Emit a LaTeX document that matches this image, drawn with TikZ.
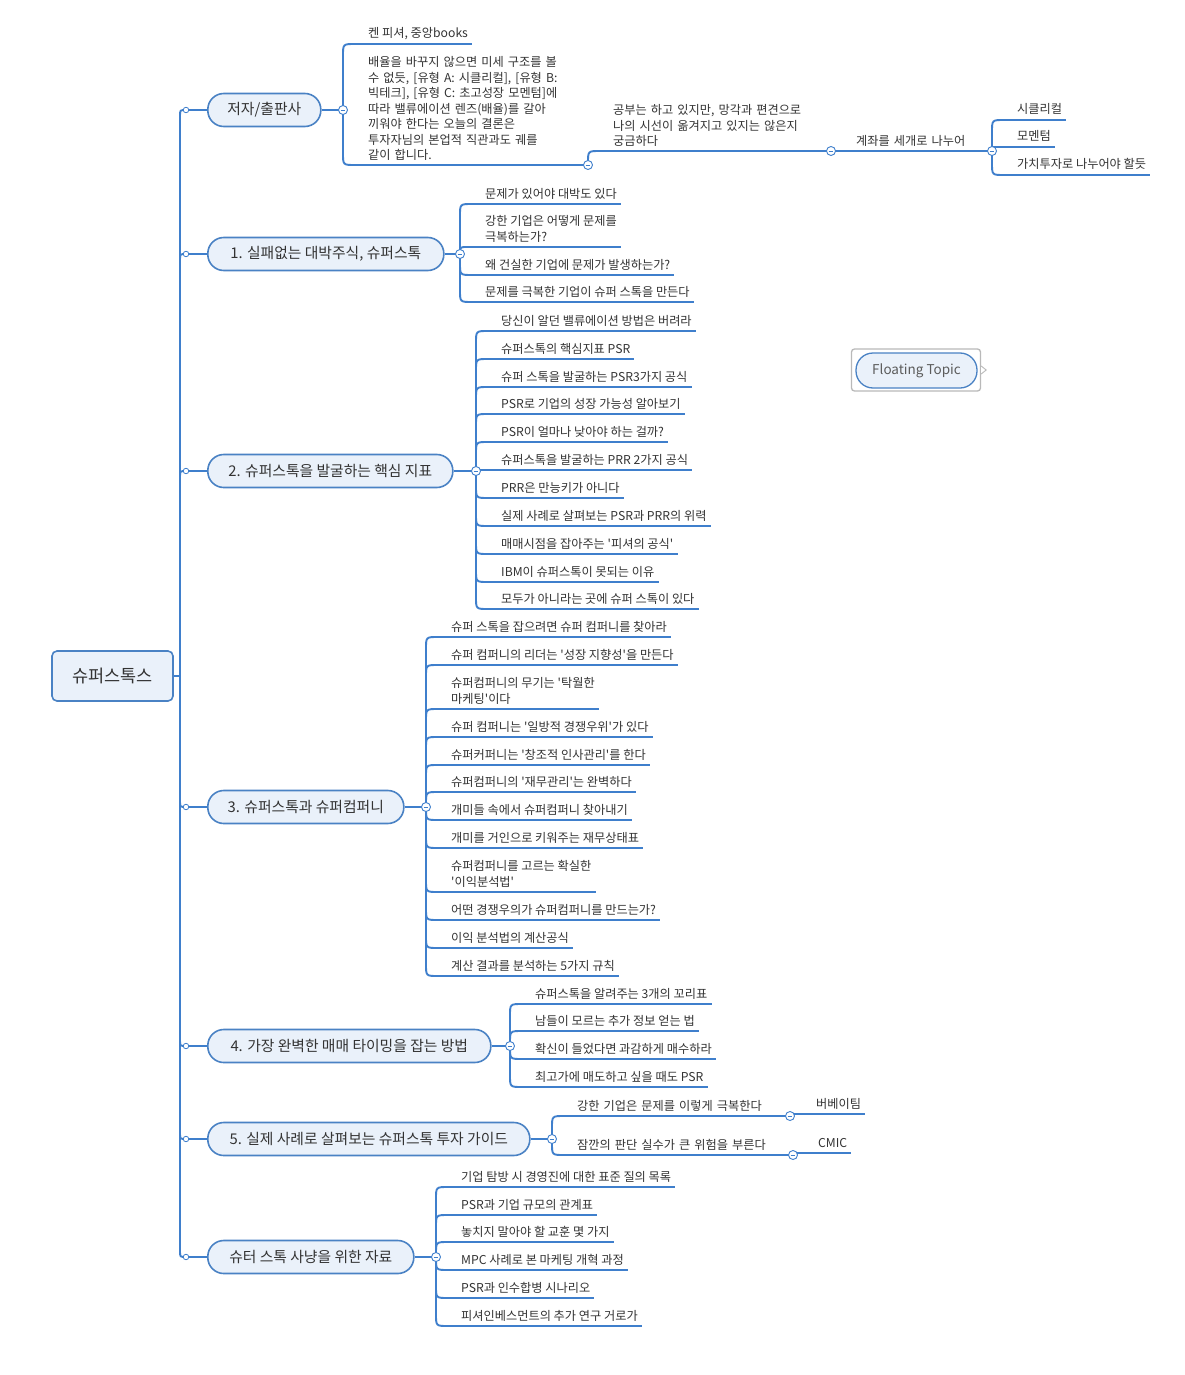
\documentclass[tikz,border=0pt]{standalone}
\usepackage{fontspec}
\setmainfont{Noto Sans CJK KR}
\usetikzlibrary{calc}
\definecolor{lc}{HTML}{3F7FCC}
\definecolor{nb}{HTML}{4A82C4}
\definecolor{nf}{HTML}{EAF1FA}
\definecolor{tc}{HTML}{333333}
\pgfdeclarelayer{bg}
\pgfsetlayers{bg,main}
\newcommand\qq{\textquotesingle}
\tikzset{
  br/.style={to path={let \p1=(\tikztostart), \p2=(\tikztotarget),
      \n1={(\y2>\y1)*2-1}, \n2={min(#1,abs(\y2-(\y1)))} in
      (\x1,\y1) -- (\x1,{\y2-(\n1)*\n2*1pt}) .. controls (\x1,\y2) .. ({\x1+\n2*1pt},\y2) -- (\tikztotarget)}},
  br/.default=12pt,
  conn/.style={draw=lc, line width=1.9pt},
  ul/.style={draw=lc, line width=1.7pt},
  leaf/.style={anchor=south west, inner xsep=4pt, inner ysep=3.8pt, text depth=2pt, text=tc, align=left,
      font=\fontsize{12.2}{15.5}\selectfont},
  leafw/.style={leaf, text depth={}, inner ysep=4.3pt},
  mainb/.style={draw=nb, fill=nf, line width=1.6pt, rounded corners=16pt, minimum height=33pt, anchor=west,
      text=tc, font=\fontsize{14.8}{17}\selectfont, inner sep=0pt},
  col/.style={circle, draw=lc, fill=white, line width=0.9pt, minimum size=9pt, inner sep=0pt,
      path picture={\draw[lc, line width=0.9pt] ([xshift=-2.3pt]path picture bounding box.center) -- ([xshift=2.3pt]path picture bounding box.center);}},
  tdot/.style={circle, draw=lc, fill=white, line width=0.8pt, minimum size=5.5pt, inner sep=0pt},
}
\begin{document}
\begin{tikzpicture}[x=1pt,y=-1pt]
\begin{pgfonlayer}{bg}
\fill[white] (0,0) rectangle (1184,1375);
\end{pgfonlayer}
\useasboundingbox (0,0) rectangle (1184,1375);

% root
\node[draw=nb, fill=nf, line width=1.6pt, rounded corners=5pt, minimum width=121pt, minimum height=50pt,
      font=\fontsize{17.5}{20}\selectfont, text=tc, inner sep=0pt] (root) at (112.5,676) {슈퍼스톡스};
\coordinate (T) at (180,676);

% main branches
\node[mainb, minimum width=113pt] (n0) at (207,110) {저자/출판사};
\node[mainb, minimum width=236pt] (n1) at (207,254) {1. 실패없는 대박주식, 슈퍼스톡};
\node[mainb, minimum width=245pt] (n2) at (207,471) {2. 슈퍼스톡을 발굴하는 핵심 지표};
\node[mainb, minimum width=196pt] (n3) at (207,807) {3. 슈퍼스톡과 슈퍼컴퍼니};
\node[mainb, minimum width=283pt] (n4) at (207,1046) {4. 가장 완벽한 매매 타이밍을 잡는 방법};
\node[mainb, minimum width=322pt] (n5) at (207,1139) {5. 실제 사례로 살펴보는 슈퍼스톡 투자 가이드};
\node[mainb, minimum width=206pt] (n6) at (207,1257) {슈터 스톡 사냥을 위한 자료};

% trunk dots
\node[tdot] (d0) at (186,110) {};
\node[tdot] (d1) at (186,254) {};
\node[tdot] (d2) at (186,471) {};
\node[tdot] (d3) at (186,807) {};
\node[tdot] (d4) at (186,1046) {};
\node[tdot] (d5) at (186,1139) {};
\node[tdot] (d6) at (186,1257) {};

% collapse circles
\node[col] (c0) at (343,110) {};
\node[col] (c1) at (460,254) {};
\node[col] (c2) at (476,471) {};
\node[col] (c3) at (426,807) {};
\node[col] (c4) at (510,1046) {};
\node[col] (c5) at (552,1139) {};
\node[col] (c6) at (436,1257) {};

% branch 0
\node[leaf] (k0a) at (364,44) {켄 피셔, 중앙books};
\node[leafw, text width=216pt] (k0b) at (364,165) {배율을 바꾸지 않으면 미세 구조를 볼\\수 없듯, [유형 A: 시클리컬], [유형 B:\\빅테크], [유형 C: 초고성장 모멘텀]에\\따라 밸류에이션 렌즈(배율)를 갈아\\끼워야 한다는 오늘의 결론은\\투자자님의 본업적 직관과도 궤를\\같이 합니다.};
\node[col] (c0b) at (588,165) {};
\node[leafw, text width=214pt] (k0c) at (609,151) {공부는 하고 있지만, 망각과 편견으로\\나의 시선이 옮겨지고 있지는 않은지\\궁금하다};
\node[col] (c0c) at (831,151) {};
\node[leafw, text width=132pt] (k0d) at (852,151) {계좌를 세개로 나누어};
\node[col] (c0d) at (992,151) {};
\node[leaf] (k0e) at (1013,120) {시클리컬};
\node[leaf] (k0f) at (1013,147) {모멘텀};
\node[leaf] (k0g) at (1013,175) {가치투자로 나누어야 할듯};

% branch 1
\node[leaf] (k1a) at (481,204) {문제가 있어야 대박도 있다};
\node[leaf] (k1b) at (481,247) {강한 기업은 어떻게 문제를\\극복하는가?};
\node[leaf] (k1c) at (481,275) {왜 건실한 기업에 문제가 발생하는가?};
\node[leaf] (k1d) at (481,302) {문제를 극복한 기업이 슈퍼 스톡을 만든다};

% branch 2
\node[leaf] (k2a) at (497,331) {당신이 알던 밸류에이션 방법은 버려라};
\node[leaf] (k2b) at (497,359) {슈퍼스톡의 핵심지표 PSR};
\node[leaf] (k2c) at (497,387) {슈퍼 스톡을 발굴하는 PSR3가지 공식};
\node[leaf] (k2d) at (497,414) {PSR로 기업의 성장 가능성 알아보기};
\node[leaf] (k2e) at (497,442) {PSR이 얼마나 낮아야 하는 걸까?};
\node[leaf] (k2f) at (497,470) {슈퍼스톡을 발굴하는 PRR 2가지 공식};
\node[leaf] (k2g) at (497,498) {PRR은 만능키가 아니다};
\node[leaf] (k2h) at (497,526) {실제 사례로 살펴보는 PSR과 PRR의 위력};
\node[leaf] (k2i) at (497,554) {매매시점을 잡아주는 \qq 피셔의 공식\qq};
\node[leaf] (k2j) at (497,582) {IBM이 슈퍼스톡이 못되는 이유};
\node[leaf] (k2k) at (497,609) {모두가 아니라는 곳에 슈퍼 스톡이 있다};

% branch 3
\node[leaf] (k3a) at (447,637) {슈퍼 스톡을 잡으려면 슈퍼 컴퍼니를 찾아라};
\node[leaf] (k3b) at (447,665) {슈퍼 컴퍼니의 리더는 \qq 성장 지향성\qq 을 만든다};
\node[leaf] (k3c) at (447,709) {슈퍼컴퍼니의 무기는 \qq 탁월한\\마케팅\qq 이다};
\node[leaf] (k3d) at (447,737) {슈퍼 컴퍼니는 \qq 일방적 경쟁우위\qq 가 있다};
\node[leaf] (k3e) at (447,765) {슈퍼커퍼니는 \qq 창조적 인사관리\qq 를 한다};
\node[leaf] (k3f) at (447,792) {슈퍼컴퍼니의 \qq 재무관리\qq 는 완벽하다};
\node[leaf] (k3g) at (447,820) {개미들 속에서 슈퍼컴퍼니 찾아내기};
\node[leaf] (k3h) at (447,848) {개미를 거인으로 키워주는 재무상태표};
\node[leaf] (k3i) at (447,892) {슈퍼컴퍼니를 고르는 확실한\\\qq 이익분석법\qq};
\node[leaf] (k3j) at (447,920) {어떤 경쟁우의가 슈퍼컴퍼니를 만드는가?};
\node[leaf] (k3k) at (447,948) {이익 분석법의 계산공식};
\node[leaf] (k3l) at (447,976) {계산 결과를 분석하는 5가지 규칙};

% branch 4
\node[leaf] (k4a) at (531,1004) {슈퍼스톡을 알려주는 3개의 꼬리표};
\node[leaf] (k4b) at (531,1031) {남들이 모르는 추가 정보 얻는 법};
\node[leaf] (k4c) at (531,1059) {확신이 들었다면 과감하게 매수하라};
\node[leaf] (k4d) at (531,1087) {최고가에 매도하고 싶을 때도 PSR};

% branch 5
\node[leafw, text width=209pt] (k5a) at (573,1116) {강한 기업은 문제를 이렇게 극복한다};
\node[col] (c5a) at (790,1116) {};
\node[leaf] (k5c) at (812,1114) {버베이팀};
\node[leafw, text width=212pt] (k5b) at (573,1155) {잠깐의 판단 실수가 큰 위험을 부른다};
\node[col] (c5b) at (793,1155) {};
\node[leaf] (k5d) at (814,1153) {CMIC};

% branch 6
\node[leaf] (k6a) at (457,1187) {기업 탐방 시 경영진에 대한 표준 질의 목록};
\node[leaf] (k6b) at (457,1215) {PSR과 기업 규모의 관계표};
\node[leaf] (k6c) at (457,1242) {놓치지 말아야 할 교훈 몇 가지};
\node[leaf] (k6d) at (457,1270) {MPC 사례로 본 마케팅 개혁 과정};
\node[leaf] (k6e) at (457,1298) {PSR과 인수합병 시나리오};
\node[leaf] (k6f) at (457,1326) {피셔인베스먼트의 추가 연구 거로가};

% floating topic
\node[draw=nb, fill=nf, line width=1.3pt, rounded corners=17pt, minimum width=121pt, minimum height=35pt,
      font=\fontsize{13.5}{15}\selectfont, text=tc!80, inner sep=0pt] (ft) at (916.5,370.5) {Floating Topic};
\node[draw=gray!55, line width=1.3pt, rounded corners=3pt, minimum width=129pt, minimum height=42pt, inner sep=0pt] (ftf) at (916,370) {};
\draw[gray!55, fill=white, line width=0.9pt] ([yshift=4pt]ftf.east) -- ++(5,4) -- ++(-5,4);

% connectors
\begin{pgfonlayer}{bg}
\draw[conn] (root.east) -- (T);
\foreach \i in {0,...,6} {
  \draw[conn] (T) to[br=6pt] (d\i.center);
  \draw[conn] (d\i.center) -- (n\i.west);
  \draw[conn] (n\i.east) -- (c\i.center);
}
\foreach \k in {k0a,k0b} \draw[conn] (c0.center) to[br] (\k.south west);
\draw[conn] (c0b.center) to[br] (k0c.south west);
\draw[conn] (c0c.center) -- (k0d.south west);
\foreach \k in {k0e,k0f,k0g} \draw[conn] (c0d.center) to[br] (\k.south west);
\foreach \k in {k1a,k1b,k1c,k1d} \draw[conn] (c1.center) to[br] (\k.south west);
\foreach \k in {k2a,k2b,k2c,k2d,k2e,k2f,k2g,k2h,k2i,k2j,k2k} \draw[conn] (c2.center) to[br] (\k.south west);
\foreach \k in {k3a,k3b,k3c,k3d,k3e,k3f,k3g,k3h,k3i,k3j,k3k,k3l} \draw[conn] (c3.center) to[br] (\k.south west);
\foreach \k in {k4a,k4b,k4c,k4d} \draw[conn] (c4.center) to[br] (\k.south west);
\foreach \k in {k5a,k5b} \draw[conn] (c5.center) to[br] (\k.south west);
\draw[conn] (c5a.center) to[br] (k5c.south west);
\draw[conn] (c5b.center) to[br] (k5d.south west);
\foreach \k in {k6a,k6b,k6c,k6d,k6e,k6f} \draw[conn] (c6.center) to[br] (\k.south west);
\foreach \k in {k0a,k0b,k0c,k0d,k0e,k0f,k0g,k1a,k1b,k1c,k1d,k2a,k2b,k2c,k2d,k2e,k2f,k2g,k2h,k2i,k2j,k2k,
  k3a,k3b,k3c,k3d,k3e,k3f,k3g,k3h,k3i,k3j,k3k,k3l,k4a,k4b,k4c,k4d,k5a,k5b,k5c,k5d,k6a,k6b,k6c,k6d,k6e,k6f}
  \draw[ul] (\k.south west) -- (\k.south east);
\end{pgfonlayer}
\end{tikzpicture}
\end{document}
